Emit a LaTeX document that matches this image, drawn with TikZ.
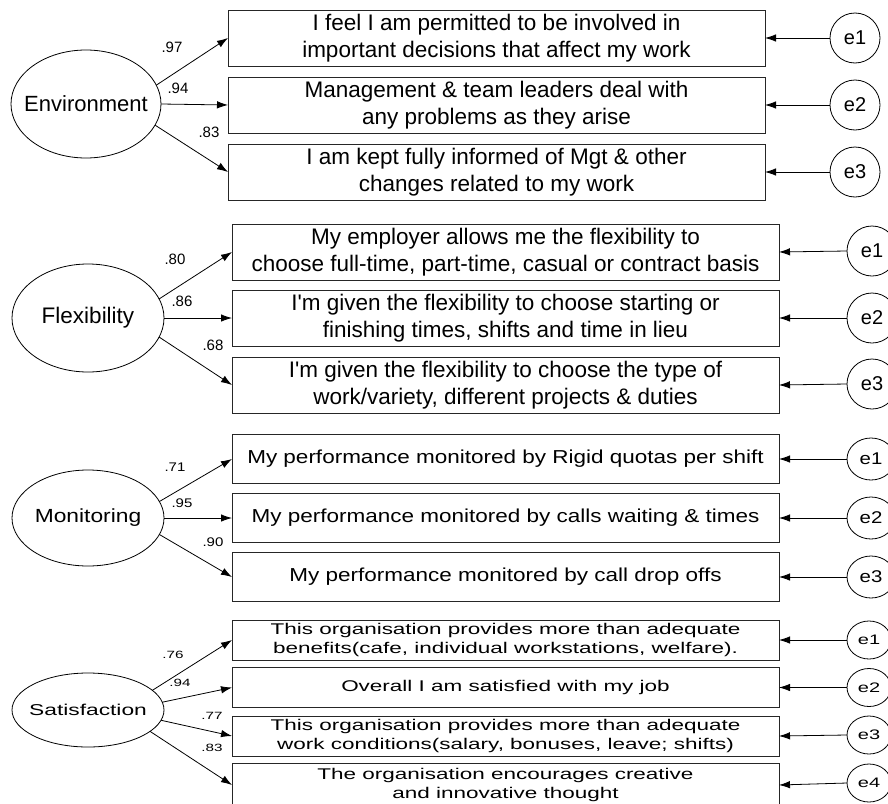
\documentclass[tikz,border=0pt]{standalone}
\usepackage{fontspec}
\setmainfont{Liberation Sans}
\newfontfamily\basefont{Liberation Sans}
\newfontfamily\monfont[FakeStretch=1.2]{Liberation Sans}
\newfontfamily\satfont[FakeStretch=1.45]{Liberation Sans}
\usetikzlibrary{shapes.geometric,arrows.meta}
\begin{document}
\begin{tikzpicture}[x=1pt,y=-1pt,
  item/.style={draw=black!85, line width=0.8pt, rectangle, inner sep=0pt, outer sep=0pt, align=center},
  envbox/.style={item, minimum width=537pt, minimum height=56pt, font=\basefont\fontsize{22.5}{27.5}\selectfont},
  flexbox/.style={item, minimum width=547pt, minimum height=56pt, font=\basefont\fontsize{22.5}{27}\selectfont},
  monbox/.style={item, minimum width=547pt, minimum height=49pt, font=\monfont\fontsize{18.75}{22}\selectfont},
  satbox/.style={item, minimum width=547pt, minimum height=40pt, font=\satfont\fontsize{15.5}{18.5}\selectfont},
  latent/.style={draw=black, line width=0.8pt, ellipse, inner sep=0pt, outer sep=0pt},
  errc/.style={draw=black, line width=0.8pt, ellipse, inner sep=0pt, outer sep=0pt},
  arr/.style={draw=black, line width=0.8pt, -{Latex[length=11pt,width=7.5pt]}},
  lab/.style={inner sep=0pt, font=\basefont\fontsize{15}{15}\selectfont},
  monlab/.style={inner sep=0pt, font=\monfont\fontsize{12.5}{12.5}\selectfont},
  satlab/.style={inner sep=0pt, font=\satfont\fontsize{10.5}{10.5}\selectfont}]
\useasboundingbox (0,0) rectangle (888,803);
\clip (0,0) rectangle (888,803);

% ---------------- Environment ----------------
\node[latent, minimum width=150pt, minimum height=108pt, font=\basefont\fontsize{22}{22}\selectfont] (envE) at (86,104) {\makebox[0pt]{Environment}};
\node[envbox] (envb1) at (496.5,38) {I feel I am permitted to be involved in\\important decisions that affect my work};
\node[envbox] (envb2) at (496.5,105) {Management \& team leaders deal with\\any problems as they arise};
\node[envbox] (envb3) at (496.5,172) {I am kept fully informed of Mgt \& other\\changes related to my work};
\node[errc, minimum width=50pt, minimum height=50pt, font=\basefont\fontsize{20}{20}\selectfont] (enve1) at (855,38) {e1};
\node[errc, minimum width=50pt, minimum height=50pt, font=\basefont\fontsize{20}{20}\selectfont] (enve2) at (855,105) {e2};
\node[errc, minimum width=50pt, minimum height=50pt, font=\basefont\fontsize{20}{20}\selectfont] (enve3) at (855,172) {e3};
\draw[arr] (envE.15.5) -- (envb1.west);
\draw[arr] (envE.east) -- (envb2.west);
\draw[arr] (envE.-17) -- (envb3.west);
\draw[arr] (enve1.west) -- (envb1.east);
\draw[arr] (enve2.west) -- (envb2.east);
\draw[arr] (enve3.west) -- (envb3.east);
\node[lab] (envl1) at (172,47) {.97};
\node[lab] (envl2) at (178,88) {.94};
\node[lab] (envl3) at (209,132) {.83};

% ---------------- Flexibility ----------------
\node[latent, minimum width=152pt, minimum height=108pt, font=\basefont\fontsize{22.5}{22.5}\selectfont] (flxE) at (88,318) {\makebox[0pt]{Flexibility}};
\node[flexbox] (flxb1) at (505.5,252) {My employer allows me the flexibility to\\choose full-time, part-time, casual or contract basis};
\node[flexbox] (flxb2) at (505.5,318) {I'm given the flexibility to choose starting or\\finishing times, shifts and time in lieu};
\node[flexbox] (flxb3) at (505.5,385) {I'm given the flexibility to choose the type of\\work/variety, different projects \& duties};
\node[errc, minimum width=50pt, minimum height=50pt, font=\basefont\fontsize{20}{20}\selectfont] (flxe1) at (872,251) {e1};
\node[errc, minimum width=50pt, minimum height=50pt, font=\basefont\fontsize{20}{20}\selectfont] (flxe2) at (872,318) {e2};
\node[errc, minimum width=50pt, minimum height=50pt, font=\basefont\fontsize{20}{20}\selectfont] (flxe3) at (872,384) {e3};
\draw[arr] (flxE.15.3) -- (flxb1.west);
\draw[arr] (flxE.east) -- (flxb2.west);
\draw[arr] (flxE.-15.3) -- (flxb3.west);
\draw[arr] (flxe1.west) -- (flxb1.east);
\draw[arr] (flxe2.west) -- (flxb2.east);
\draw[arr] (flxe3.west) -- (flxb3.east);
\node[lab] (flxl1) at (175,259) {.80};
\node[lab] (flxl2) at (182,301) {.86};
\node[lab] (flxl3) at (213,345) {.68};

% ---------------- Monitoring ----------------
\node[latent, minimum width=152pt, minimum height=96pt, font=\monfont\fontsize{19}{19}\selectfont] (monE) at (88,518) {\makebox[0pt]{Monitoring}};
\node[monbox] (monb1) at (505.5,459) {My performance monitored by Rigid quotas per shift};
\node[monbox] (monb2) at (505.5,518) {My performance monitored by calls waiting \& times};
\node[monbox] (monb3) at (505.5,577) {My performance monitored by call drop offs};
\node[errc, minimum width=48pt, minimum height=42pt, font=\monfont\fontsize{17}{17}\selectfont] (mone1) at (871,459) {e1};
\node[errc, minimum width=48pt, minimum height=42pt, font=\monfont\fontsize{17}{17}\selectfont] (mone2) at (871,518) {e2};
\node[errc, minimum width=48pt, minimum height=42pt, font=\monfont\fontsize{17}{17}\selectfont] (mone3) at (871,577) {e3};
\draw[arr] (monE.13.9) -- (monb1.west);
\draw[arr] (monE.east) -- (monb2.west);
\draw[arr] (monE.-13.9) -- (monb3.west);
\draw[arr] (mone1.west) -- (monb1.east);
\draw[arr] (mone2.west) -- (monb2.east);
\draw[arr] (mone3.west) -- (monb3.east);
\node[monlab] (monl1) at (175,467) {.71};
\node[monlab] (monl2) at (182,503) {.95};
\node[monlab] (monl3) at (213,542) {.90};

% ---------------- Satisfaction ----------------
\node[latent, minimum width=152pt, minimum height=74pt, font=\satfont\fontsize{15.7}{15.7}\selectfont] (satE) at (88,710) {\makebox[0pt]{Satisfaction}};
\node[satbox] (satb1) at (505.5,640) {This organisation provides more than adequate\\benefits(cafe, individual workstations, welfare).};
\node[satbox] (satb2) at (505.5,687.5) {Overall I am satisfied with my job};
\node[satbox] (satb3) at (505.5,736) {This organisation provides more than adequate\\work conditions(salary, bonuses, leave; shifts)};
\node[satbox, minimum height=44pt] (satb4) at (505.5,785) {The organisation encourages creative\\and innovative thought};
\node[errc, minimum width=44pt, minimum height=38pt, font=\satfont\fontsize{13.8}{13.8}\selectfont] (sate1) at (869,640) {e1};
\node[errc, minimum width=44pt, minimum height=38pt, font=\satfont\fontsize{13.8}{13.8}\selectfont] (sate2) at (869,687.5) {e2};
\node[errc, minimum width=44pt, minimum height=38pt, font=\satfont\fontsize{13.8}{13.8}\selectfont] (sate3) at (869,735) {e3};
\node[errc, minimum width=44pt, minimum height=38pt, font=\satfont\fontsize{13.8}{13.8}\selectfont] (sate4) at (869,783) {e4};
\draw[arr] (satE.17) -- (satb1.west);
\draw[arr] (satE.6) -- (satb2.west);
\draw[arr] (satE.-8) -- (satb3.west);
\draw[arr] (satE.-19.5) -- (satb4.west);
\draw[arr] (sate1.west) -- (satb1.east);
\draw[arr] (sate2.west) -- (satb2.east);
\draw[arr] (sate3.west) -- (satb3.east);
\draw[arr] (sate4.west) -- (satb4.east);
\node[satlab] (satl1) at (173,655) {.76};
\node[satlab] (satl2) at (180,683) {.94};
\node[satlab] (satl3) at (212,716) {.77};
\node[satlab] (satl4) at (212,748) {.83};
\end{tikzpicture}
\end{document}
